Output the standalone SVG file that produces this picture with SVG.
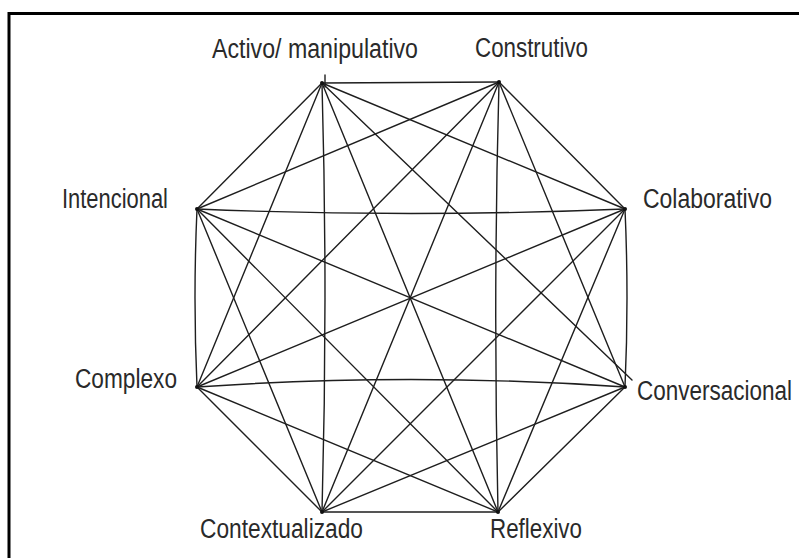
<svg xmlns="http://www.w3.org/2000/svg" width="799" height="558" viewBox="0 0 799 558">
  <style>
    .frame { fill: none; stroke: #000; stroke-width: 3; }
    .edge { stroke: #1e1e1e; stroke-width: 1.4; fill: none; stroke-linecap: round; }
    .label { font-family: "Liberation Sans", Arial, sans-serif; font-size: 27px; fill: #2a2a2a; }
    .dot { fill: #111; }
  </style>
  <rect width="799" height="558" fill="#fff"/>
  <rect class="frame" x="9" y="13.5" width="800" height="560"/>

  <!-- all 28 pairwise connections between the eight principles -->
  <g id="connectors">
    <!-- outer octagon -->
    <line class="edge" x1="322" y1="83" x2="499" y2="82"/>
    <line class="edge" x1="499" y1="82" x2="625" y2="209"/>
    <path class="edge" d="M625,209 Q629,298 625,387"/>
    <line class="edge" x1="625" y1="387" x2="498" y2="512"/>
    <line class="edge" x1="498" y1="512" x2="322" y2="512"/>
    <line class="edge" x1="322" y1="512" x2="197" y2="387"/>
    <path class="edge" d="M197,387 Q193,298 197,209"/>
    <line class="edge" x1="197" y1="209" x2="322" y2="83"/>
    <!-- diagonals from Activo -->
    <line class="edge" x1="322" y1="83" x2="625" y2="209"/>
    <line class="edge" x1="322" y1="83" x2="632" y2="380"/>
    <line class="edge" x1="322" y1="83" x2="498" y2="512"/>
    <path class="edge" d="M322,83 Q328,298 322,512"/>
    <line class="edge" x1="322" y1="83" x2="197" y2="387"/>
    <line class="edge" x1="325" y1="75" x2="325" y2="87"/>
    <!-- diagonals from Construtivo -->
    <line class="edge" x1="499" y1="82" x2="625" y2="387"/>
    <path class="edge" d="M499,82 Q493,298 498,512"/>
    <line class="edge" x1="499" y1="82" x2="322" y2="512"/>
    <line class="edge" x1="499" y1="82" x2="197" y2="387"/>
    <line class="edge" x1="499" y1="82" x2="197" y2="209"/>
    <!-- diagonals from Colaborativo -->
    <line class="edge" x1="625" y1="209" x2="498" y2="512"/>
    <line class="edge" x1="625" y1="209" x2="322" y2="512"/>
    <line class="edge" x1="625" y1="209" x2="197" y2="387"/>
    <path class="edge" d="M625,209 Q411,218 197,209"/>
    <!-- diagonals from Conversacional -->
    <line class="edge" x1="625" y1="387" x2="322" y2="512"/>
    <path class="edge" d="M625,387 Q411,372 197,387"/>
    <line class="edge" x1="625" y1="387" x2="197" y2="209"/>
    <!-- remaining diagonals -->
    <line class="edge" x1="498" y1="512" x2="197" y2="387"/>
    <line class="edge" x1="498" y1="512" x2="197" y2="209"/>
    <line class="edge" x1="322" y1="512" x2="197" y2="209"/>
  </g>

  <g id="node-activo">
    <circle class="dot" cx="322" cy="83" r="2"/>
    <text class="label" x="212" y="58" textLength="206" lengthAdjust="spacingAndGlyphs">Activo/ manipulativo</text>
  </g>
  <g id="node-construtivo">
    <circle class="dot" cx="499" cy="82" r="2"/>
    <text class="label" x="475" y="57" textLength="113" lengthAdjust="spacingAndGlyphs">Construtivo</text>
  </g>
  <g id="node-colaborativo">
    <circle class="dot" cx="625" cy="209" r="2"/>
    <text class="label" x="643" y="208" textLength="129" lengthAdjust="spacingAndGlyphs">Colaborativo</text>
  </g>
  <g id="node-conversacional">
    <circle class="dot" cx="625" cy="387" r="2"/>
    <text class="label" x="637" y="400" textLength="155" lengthAdjust="spacingAndGlyphs">Conversacional</text>
  </g>
  <g id="node-reflexivo">
    <circle class="dot" cx="498" cy="512" r="2"/>
    <text class="label" x="490" y="538" textLength="92" lengthAdjust="spacingAndGlyphs">Reflexivo</text>
  </g>
  <g id="node-contextualizado">
    <circle class="dot" cx="322" cy="512" r="2"/>
    <text class="label" x="200" y="538" textLength="163" lengthAdjust="spacingAndGlyphs">Contextualizado</text>
  </g>
  <g id="node-complexo">
    <circle class="dot" cx="197" cy="387" r="2"/>
    <text class="label" x="75" y="388" textLength="102" lengthAdjust="spacingAndGlyphs">Complexo</text>
  </g>
  <g id="node-intencional">
    <circle class="dot" cx="197" cy="209" r="2"/>
    <text class="label" x="62" y="208" textLength="106" lengthAdjust="spacingAndGlyphs">Intencional</text>
  </g>
</svg>
